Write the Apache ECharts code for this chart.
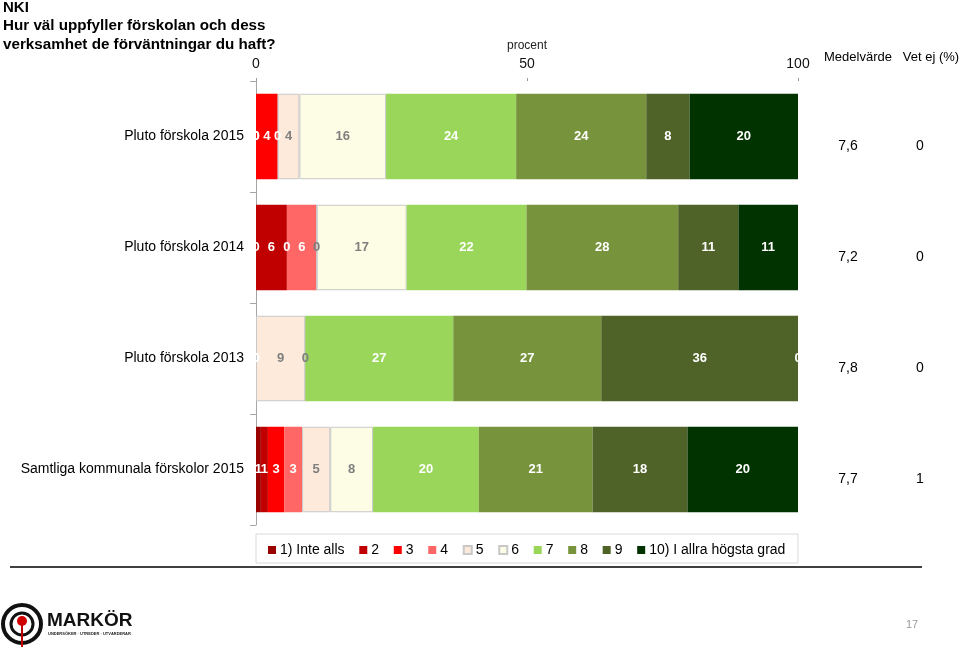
<!DOCTYPE html>
<html>
<head>
<meta charset="utf-8">
<script src="https://cdn.jsdelivr.net/npm/echarts@6/dist/echarts.min.js"></script>
<style>
html,body{margin:0;padding:0;background:#fff;}
#c{width:960px;height:651px;}
</style>
</head>
<body>
<div id="c"></div>
<script>
const categories = ['Pluto förskola 2015', 'Pluto förskola 2014', 'Pluto förskola 2013', 'Samtliga kommunala förskolor 2015'];
const levelNames = ['1) Inte alls', '2', '3', '4', '5', '6', '7', '8', '9', '10) I allra högsta grad'];
const level1  = [0, 0, 0, 0.9];
const level2  = [0, 5.7, 0, 1.3];
const level3  = [4, 0, 0, 3];
const level4  = [0, 5.5, 0, 3.3];
const level5  = [4, 0, 9.1, 5.2];
const level6  = [16, 16.6, 0, 7.9];
const level7  = [24, 22.1, 27.3, 19.5];
const level8  = [24, 28, 27.3, 21];
const level9  = [8, 11.1, 36.3, 17.5];
const level10 = [20, 11, 0, 20.4];
const meanValues = ['7,6', '7,2', '7,8', '7,7'];
const dontKnow = ['0', '0', '0', '1'];
const xTickMin = 0, xTickMax = 100, xTickStep = 50;

const levels = [level1, level2, level3, level4, level5, level6, level7, level8, level9, level10];
const colors = ['#9B0000', '#C00000', '#FF0000', '#FF6666', '#FDEADA', '#FDFDE6', '#99D65A', '#77933C', '#4F6228', '#003300'];
const labelColors = ['#fff', '#fff', '#fff', '#fff', '#7f7f7f', '#7f7f7f', '#fff', '#fff', '#fff', '#fff'];
const FONT = '"Liberation Sans", Arial, sans-serif';

const chart = echarts.init(document.getElementById('c'), null, {renderer: 'canvas'});

const series = levels.map((vals, i) => ({
  name: levelNames[i],
  type: 'bar',
  stack: 'total',
  data: vals,
  barCategoryGap: '23%',
  itemStyle: {
    color: colors[i],
    borderColor: (i === 4 || i === 5) ? '#c8c8c8' : colors[i],
    borderWidth: (i === 4 || i === 5) ? 1 : 0
  },
  label: {
    show: true,
    position: 'inside',
    color: labelColors[i],
    fontFamily: FONT,
    fontSize: 13,
    fontWeight: 'bold',
    formatter: p => String(Math.round(p.value))
  },
  emphasis: {disabled: true},
  animation: false
}));

chart.setOption({
  animation: false,
  textStyle: {fontFamily: FONT},
  grid: {left: 256, right: 162, top: 81, bottom: 126, containLabel: false},
  xAxis: {
    type: 'value',
    position: 'top',
    min: xTickMin, max: xTickMax, interval: xTickStep,
    name: 'procent',
    nameLocation: 'middle',
    nameGap: 25,
    nameTextStyle: {color: '#222', fontSize: 12, fontFamily: FONT},
    axisLine: {show: false},
    axisTick: {show: true, length: 3, lineStyle: {color: '#999'}},
    axisLabel: {color: '#111', fontSize: 14, fontFamily: FONT, margin: 10},
    splitLine: {show: false}
  },
  yAxis: [{
    type: 'category',
    inverse: true,
    data: categories,
    axisLine: {show: true, lineStyle: {color: '#a6a6a6'}},
    axisTick: {show: true, length: 6, lineStyle: {color: '#a6a6a6'}},
    axisLabel: {color: '#000', fontSize: 14, fontFamily: FONT, margin: 12}
  }, {
    type: 'category',
    inverse: true,
    position: 'right',
    data: categories,
    axisLine: {show: false},
    axisTick: {show: false},
    axisLabel: {
      margin: 0,
      padding: [20, 0, 0, 0],
      formatter: (v, i) => '{m|' + meanValues[i] + '}{d|' + dontKnow[i] + '}',
      rich: {
        m: {width: 100, align: 'center', fontSize: 14, color: '#000', fontFamily: FONT},
        d: {width: 44, align: 'center', fontSize: 14, color: '#000', fontFamily: FONT}
      }
    }
  }],
  legend: {
    data: levelNames,
    left: 263,
    top: 538,
    itemWidth: 8,
    itemHeight: 8,
    itemGap: 14.7,
    icon: 'rect',
    selectedMode: false,
    textStyle: {fontSize: 14, color: '#000', fontFamily: FONT, padding: [0, 0, 0, -1]}
  },
  graphic: [
    {type: 'text', left: 3, top: 0, style: {text: 'NKI', font: 'bold 15px ' + FONT, fill: '#000'}},
    {type: 'text', left: 3, top: 18, style: {text: 'Hur väl uppfyller förskolan och dess', font: 'bold 15.2px ' + FONT, fill: '#000'}},
    {type: 'text', left: 3, top: 37, style: {text: 'verksamhet de förväntningar du haft?', font: 'bold 15.2px ' + FONT, fill: '#000'}},
    {type: 'text', x: 858, y: 57, style: {text: 'Medelvärde', font: '13px ' + FONT, fill: '#000', align: 'center', verticalAlign: 'middle'}},
    {type: 'text', x: 931, y: 57, style: {text: 'Vet ej (%)', font: '13px ' + FONT, fill: '#000', align: 'center', verticalAlign: 'middle'}},
    {type: 'rect', shape: {x: 256, y: 534, width: 542, height: 29}, style: {fill: 'none', stroke: '#d9d9d9', lineWidth: 1}, z: -1},
    {type: 'line', shape: {x1: 10, y1: 567, x2: 922, y2: 567}, style: {stroke: '#404040', lineWidth: 2}},
    {type: 'circle', shape: {cx: 22, cy: 624, r: 19}, style: {fill: 'none', stroke: '#111', lineWidth: 4}},
    {type: 'circle', shape: {cx: 22, cy: 624, r: 11}, style: {fill: 'none', stroke: '#111', lineWidth: 3}},
    {type: 'line', shape: {x1: 22, y1: 624, x2: 22, y2: 647}, style: {stroke: '#c00000', lineWidth: 2}},
    {type: 'circle', shape: {cx: 22, cy: 621, r: 5}, style: {fill: '#d00000'}},
    {type: 'text', left: 47, top: 611, style: {text: 'MARKÖR', font: '900 19px ' + FONT, fill: '#111'}},
    {type: 'text', left: 48, top: 632, style: {text: 'UNDERSÖKER · UTREDER · UTVÄRDERAR', font: 'bold 4px ' + FONT, fill: '#222'}},
    {type: 'text', x: 912, y: 625, style: {text: '17', font: '11px ' + FONT, fill: '#9a9a9a', align: 'center', verticalAlign: 'middle'}}
  ],
  series: series
});
</script>
</body>
</html>
